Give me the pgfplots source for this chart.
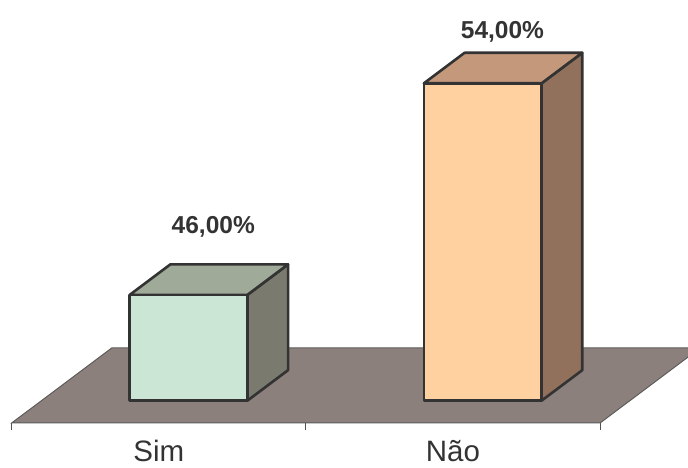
\documentclass[border=0pt]{standalone}
\usepackage{pgfplots}
\pgfplotsset{compat=1.18}
\usepackage{pgfplotstable}
\usepackage{fontspec}
\setmainfont{Liberation Sans}

\definecolor{simfront}{HTML}{CCE6D6}
\definecolor{simtop}{HTML}{A0AA98}
\definecolor{simside}{HTML}{7A7A6E}
\definecolor{naofront}{HTML}{FFD0A0}
\definecolor{naotop}{HTML}{C4987A}
\definecolor{naoside}{HTML}{91705C}
\definecolor{floorfill}{HTML}{8C807C}
\definecolor{edge}{HTML}{333333}
\definecolor{ink}{HTML}{333333}

% answers in percent; lx/ly nudge each value label (pt)
\pgfplotstableread{
x    v    lx    ly
0.5  46   4.4   52.8
1.5  54  -0.6   36.3
}\answers

% one face of the oblique 3D chart: rows of x (category), d (depth), z (percent)
\newcommand\face[2]{%
  \addplot[fill=#1, draw=edge, line width=2.6pt, line join=round]
    table[row sep=\\,
          x expr=\thisrow{x}+0.13834*(\thisrow{d}+0.73),
          y expr=\thisrow{z}+1.1531*\thisrow{d}] {x d z\\ #2} -- cycle;
}
% a bar from the 42% base up to its value: x-left, x-right, value, colour prefix
\newcommand\cuboid[4]{%
  \face{#4side}{#2 0 42\\ #2 1 42\\ #2 1 #3\\ #2 0 #3\\}
  \face{#4top}{#1 0 #3\\ #2 0 #3\\ #2 1 #3\\ #1 1 #3\\}
  \face{#4front}{#1 0 42\\ #2 0 42\\ #2 0 #3\\ #1 0 #3\\}
}

\begin{document}
\begin{tikzpicture}
\begin{axis}[
  x=294.2pt, y=26.45pt,
  xmin=0, xmax=2, ymin=41.158, ymax=57.15,
  axis x line*=bottom, axis y line=none,
  clip=false,
  xtick={0.5,1.5}, xticklabels={Sim,Não},
  minor xtick={0,1,2},
  major tick length=0pt, minor tick length=7pt,
  tick align=outside,
  x axis line style={draw=ink!85, line width=1pt},
  every minor tick/.style={draw=ink!85, line width=1pt},
  xticklabel style={font=\fontsize{29.5}{35}\selectfont, text=ink,
                    anchor=base, yshift=-38.5pt},
]
% floor
\addplot[fill=floorfill, draw=ink!80, line width=1pt]
  table[row sep=\\,
        x expr=\thisrow{x}+0.13834*(\thisrow{d}+0.73),
        y expr=\thisrow{z}+1.1531*\thisrow{d}]
  {x d z\\ 0 -0.73 42\\ 2 -0.73 42\\ 2 1.73 42\\ 0 1.73 42\\} -- cycle;

\cuboid{0.3}{0.7}{46}{sim}
\cuboid{1.3}{1.7}{54}{nao}

% value labels above the top faces
\addplot[only marks, mark=*, mark size=0pt, mark options={draw=none, fill=none},
  point meta=\thisrow{v},
  visualization depends on={\thisrow{lx} \as \lblx},
  visualization depends on={\thisrow{ly} \as \lbly},
  nodes near coords={\bfseries\pgfmathprintnumber[assume math mode=true,
      fixed, fixed zerofill, precision=2, use comma]{\pgfplotspointmeta}\%},
  nodes near coords style={anchor=center, text=ink,
      font=\fontsize{24.5}{29}\selectfont,
      xshift=\lblx pt, yshift=\lbly pt}]
  table[x expr=\thisrow{x}+0.13834*(0.5+0.73), y expr=\thisrow{v}+1.1531*0.5] {\answers};

\coordinate (bbsw) at (axis cs:-0.03977,39.4556);
\coordinate (bbne) at (axis cs:2.29878,57.1493);
\end{axis}
\pgfresetboundingbox
\path[use as bounding box] (bbsw) rectangle (bbne);
\end{tikzpicture}
\end{document}
